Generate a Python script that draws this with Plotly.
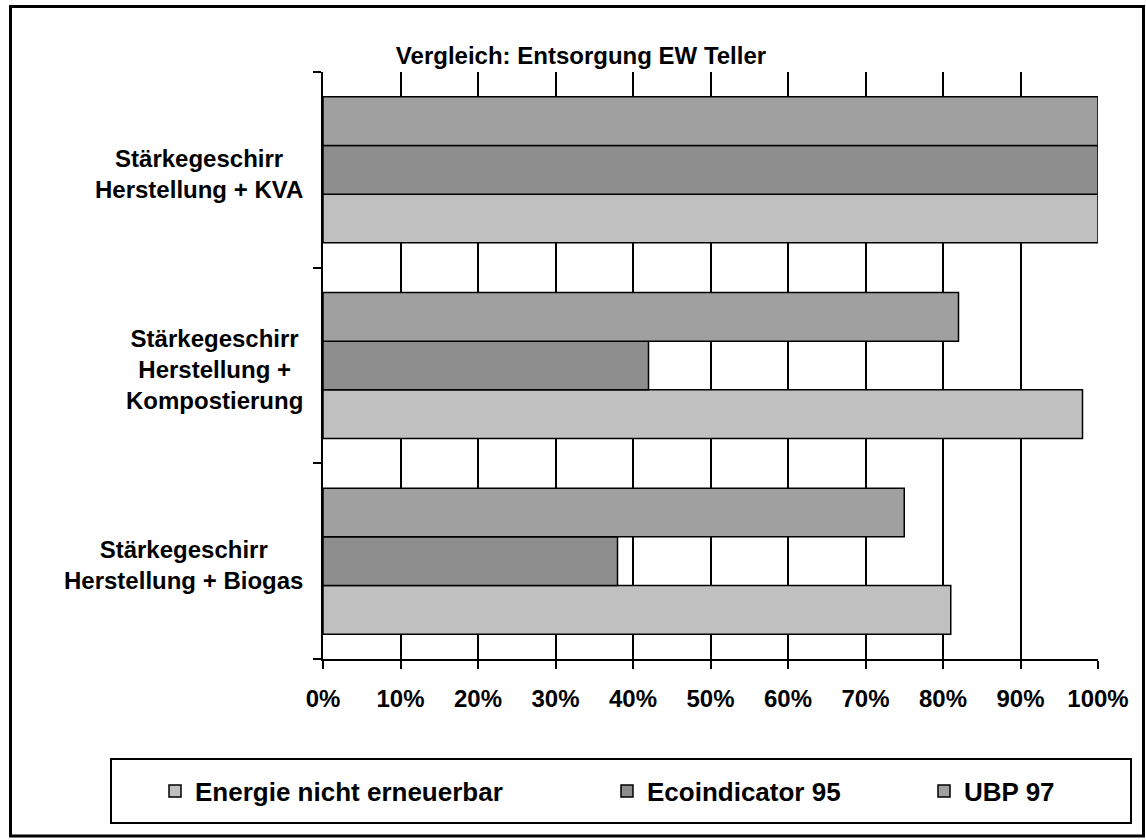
import plotly.graph_objects as go

# ---- data ----
categories = [
    "Stärkegeschirr<br>Herstellung + KVA",
    "Stärkegeschirr<br>Herstellung +<br>Kompostierung",
    "Stärkegeschirr<br>Herstellung + Biogas",
]
series_names = ["Energie nicht erneuerbar", "Ecoindicator 95", "UBP 97"]
energie = [100, 98, 81]
ecoindicator = [100, 42, 38]
ubp = [100, 82, 75]
series_values = [energie, ecoindicator, ubp]
series_colors = ["#c0c0c0", "#8e8e8e", "#a0a0a0"]
legend_ids = ["legend", "legend2", "legend3"]
x_tick_values = [0, 10, 20, 30, 40, 50, 60, 70, 80, 90, 100]
x_tick_labels = ["0%", "10%", "20%", "30%", "40%", "50%", "60%", "70%", "80%", "90%", "100%"]
title_text = "Vergleich: Entsorgung EW Teller"

FONT = "Liberation Sans, Arial, sans-serif"
W, H = 1146, 840
# plot area in page pixels: x 323..1098, y 72..659
L, R, T, B = 323, 1146 - 1098, 72, 840 - 659
PW, PH = W - L - R, H - T - B


def px_x(p):
    return (p - L) / PW


def px_y(p):
    return (H - B - p) / PH


fig = go.Figure()
for name, vals, col, lg in zip(series_names, series_values, series_colors, legend_ids):
    fig.add_trace(go.Bar(
        y=categories, x=vals, name=name, orientation="h",
        marker=dict(color=col, line=dict(color="black", width=1.5)),
        legend=lg, showlegend=True, hoverinfo="skip",
    ))

annotations = []
for cat in categories:
    annotations.append(dict(
        x=0, xref="paper", y=cat, yref="y", xshift=-18, yshift=-4,
        xanchor="right", yanchor="middle", align="center", showarrow=False,
        text=cat, font=dict(family=FONT, size=24, color="black", weight="bold"),
    ))

shapes = [
    # outer frame
    dict(type="rect", xref="paper", yref="paper",
         x0=px_x(10.5), x1=px_x(1143.5), y0=px_y(836), y1=px_y(6.5),
         line=dict(color="black", width=3), fillcolor="rgba(0,0,0,0)", layer="above"),
    # legend box
    dict(type="rect", xref="paper", yref="paper",
         x0=px_x(111), x1=px_x(1131), y0=px_y(823), y1=px_y(759),
         line=dict(color="black", width=2), fillcolor="rgba(0,0,0,0)", layer="above"),
]

legend_font = dict(family=FONT, size=26, color="black", weight="bold")
legend_common = dict(font=legend_font, bgcolor="rgba(0,0,0,0)", borderwidth=0,
                     yanchor="middle", y=px_y(791), xanchor="left")

fig.update_layout(
    width=W, height=H,
    margin=dict(l=L, r=R, t=T, b=B, pad=0),
    paper_bgcolor="white", plot_bgcolor="white",
    showlegend=True,
    barmode="group", bargap=0.254, bargroupgap=0,
    title=dict(text=title_text, x=px_x(581), xref="paper", xanchor="center",
               y=1 - 56 / H, yref="container", yanchor="middle",
               font=dict(family=FONT, size=24, color="black", weight="bold")),
    xaxis=dict(range=[0, 100], tickmode="array", tickvals=x_tick_values, ticktext=x_tick_labels,
               showgrid=True, gridcolor="black", gridwidth=1.5,
               showline=True, linecolor="black", linewidth=2,
               ticks="outside", ticklen=8, tickwidth=1.5, tickcolor="black",
               zeroline=False, ticklabelstandoff=9,
               tickfont=dict(family=FONT, size=24, color="black", weight="bold")),
    yaxis=dict(categoryorder="array", categoryarray=categories[::-1],
               showticklabels=False, tickson="boundaries",
               ticks="outside", ticklen=8, tickwidth=1.5, tickcolor="black",
               showline=True, linecolor="black", linewidth=2,
               showgrid=False, zeroline=False),
    legend=dict(x=px_x(155), **legend_common),
    legend2=dict(x=px_x(607), **legend_common),
    legend3=dict(x=px_x(924), **legend_common),
    annotations=annotations,
    shapes=shapes,
)

fig.write_html(
    "out.html",
    config={"displayModeBar": False},
    post_script="document.body.style.margin='0';document.body.style.overflow='hidden';",
)
